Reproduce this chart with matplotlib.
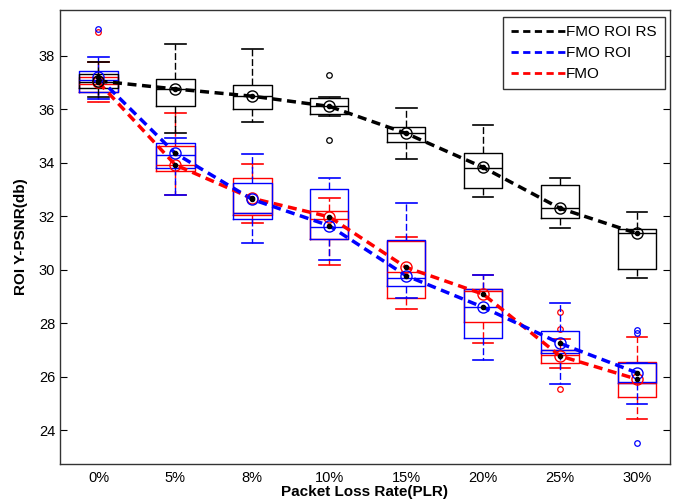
import numpy as np
import matplotlib
matplotlib.use('Agg')
import matplotlib.pyplot as plt
from matplotlib.lines import Line2D

plt.rcParams['font.family'] = ['Liberation Sans', 'DejaVu Sans']

# 丢包率
plr = ['0%', '5%', '8%', '10%', '15%', '20%', '25%', '30%']

# FMO ROI RS (黑)
rs_q1 = [36.80, 36.11, 35.99, 35.80, 34.77, 33.06, 31.93, 30.01]
rs_med = [37.00, 36.75, 36.50, 36.10, 35.10, 33.80, 32.30, 31.35]
rs_q3 = [37.30, 37.11, 36.89, 36.40, 35.32, 34.37, 33.15, 31.53]
rs_lo = [36.44, 35.09, 35.53, 35.75, 34.14, 32.70, 31.56, 29.68]
rs_hi = [37.75, 38.43, 38.23, 36.45, 36.03, 35.40, 33.41, 32.15]
rs_mean = [37.05, 36.75, 36.48, 36.10, 35.09, 33.82, 32.29, 31.35]
rs_out = [[], [], [], [37.28, 34.85], [], [], [], []]

# FMO ROI (蓝)
roi_q1 = [36.65, 33.78, 31.89, 31.13, 29.38, 27.43, 26.87, 25.77]
roi_med = [37.10, 34.30, 32.10, 31.60, 29.70, 28.60, 27.00, 25.80]
roi_q3 = [37.43, 34.72, 33.25, 33.01, 31.10, 29.26, 27.70, 26.49]
roi_lo = [36.36, 32.77, 31.00, 30.36, 28.92, 26.62, 25.72, 24.96]
roi_hi = [37.96, 34.90, 34.31, 33.41, 32.50, 29.80, 28.74, 26.49]
roi_mean = [37.18, 34.34, 32.62, 31.64, 29.77, 28.59, 27.24, 26.14]
roi_out = [[38.98], [], [], [], [], [], [], [27.75, 27.62, 23.50]]

# FMO (红)
fmo_q1 = [36.62, 33.69, 32.04, 31.13, 28.92, 28.05, 26.49, 25.22]
fmo_med = [36.95, 33.90, 32.10, 31.90, 29.90, 29.20, 26.80, 25.75]
fmo_q3 = [37.20, 34.60, 33.43, 32.20, 31.07, 29.26, 26.99, 26.53]
fmo_lo = [36.27, 32.80, 31.75, 30.17, 28.51, 27.24, 26.31, 24.42]
fmo_hi = [37.77, 35.86, 33.94, 32.66, 31.23, 29.81, 27.40, 27.49]
fmo_mean = [37.00, 33.91, 32.66, 31.97, 30.08, 29.08, 26.77, 25.90]
fmo_out = [[38.88], [], [], [], [], [], [27.77, 28.42, 25.53], []]

fig = plt.figure(figsize=(6.79, 5.04), dpi=100)
ax = fig.add_axes([0.0884, 0.0794, 0.8983, 0.9006])
pos = np.arange(1, len(plr) + 1)


def draw(q1, med, q3, lo, hi, mean, out, c):
    stats = []
    for i in range(len(plr)):
        stats.append(dict(q1=q1[i], med=med[i], q3=q3[i], whislo=lo[i],
                          whishi=hi[i], fliers=out[i], mean=mean[i]))
    ax.bxp(stats, positions=pos, widths=0.5, capwidths=0.27,
           boxprops=dict(color=c, lw=1), medianprops=dict(color=c, lw=1),
           whiskerprops=dict(color=c, lw=1, ls=(0, (5, 2))),
           capprops=dict(color=c, lw=1.2),
           flierprops=dict(marker='o', mfc='none', mec=c, ms=4, mew=0.9))
    ax.plot(pos, mean, color=c, lw=2.5, ls=(0, (2.6, 1.6)), zorder=4)
    ax.plot(pos, mean, ls='none', marker='o', mfc='none', mec=c, ms=8,
            mew=1, zorder=5)
    ax.plot(pos, mean, ls='none', marker='o', color='k', ms=3, zorder=6)


draw(fmo_q1, fmo_med, fmo_q3, fmo_lo, fmo_hi, fmo_mean, fmo_out, 'red')
draw(roi_q1, roi_med, roi_q3, roi_lo, roi_hi, roi_mean, roi_out, 'blue')
draw(rs_q1, rs_med, rs_q3, rs_lo, rs_hi, rs_mean, rs_out, 'black')

ax.set_xlim(0.5, 8.43)
ax.set_ylim(22.73, 39.7)
ax.set_xticks(pos)
ax.set_xticklabels(plr)
ax.set_yticks(np.arange(24, 39, 2))
ax.tick_params(direction='in', top=False, right=True, labelsize=10.5,
               length=5)
ax.tick_params(axis='x', length=0, pad=5)
for s in ax.spines.values():
    s.set_linewidth(1)
    s.set_color('#333333')

ax.set_xlabel('Packet Loss Rate(PLR)', fontsize=11, fontweight='bold',
              labelpad=0)
ax.set_ylabel('ROI Y-PSNR(db)', fontsize=11, fontweight='bold',
              labelpad=8)

handles = [Line2D([], [], color=c, lw=2, ls=(0, (2.6, 1.6)))
           for c in ['black', 'blue', 'red']]
leg = ax.legend(handles, ['FMO ROI RS', 'FMO ROI', 'FMO'], loc='upper right',
                bbox_to_anchor=(0.992, 0.985), borderaxespad=0,
                fontsize=11, fancybox=False,
                framealpha=1, edgecolor='#333333', handlelength=3.5,
                handletextpad=0.1, borderpad=0.55, labelspacing=0.45)
leg.get_frame().set_linewidth(1)

fig.savefig('out.png', dpi=100)
